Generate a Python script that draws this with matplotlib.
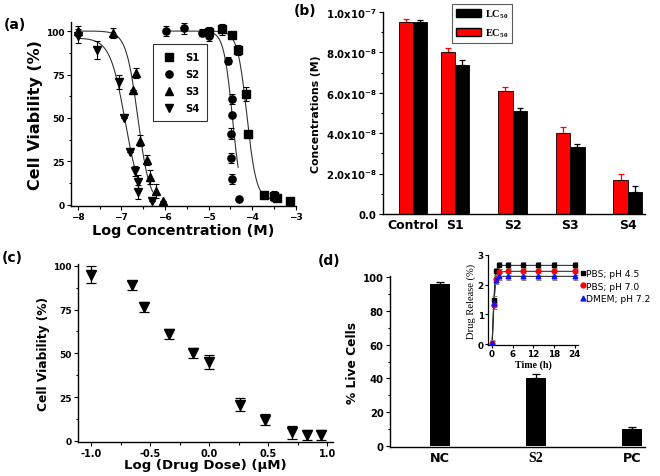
import numpy as np
import matplotlib
matplotlib.use('Agg')
import matplotlib.pyplot as plt
from matplotlib.ticker import MultipleLocator, FuncFormatter
from matplotlib.patches import Patch
from matplotlib.lines import Line2D

# ---------------- data ----------------
# (a) dose-response points: log concentration (M), viability (%), error
s1_x = [-4.98, -4.70, -4.47, -4.32, -4.14, -4.09, -3.72, -3.50, -3.42, -3.12]
s1_y = [99.5, 101, 97.5, 89, 64, 41, 6, 5, 4, 2]
s1_e = [3, 3, 0, 3, 4, 0, 0, 3, 0, 0]
s2_x = [-5.97, -5.56, -5.16, -4.98, -4.55, -4.47, -4.47, -4.48, -4.48, -4.47, -4.29]
s2_y = [100, 101.5, 99, 97, 83, 61, 52, 41, 27, 15, 3.5]
s2_e = [3, 3, 2, 3, 2, 3, 0, 3, 3, 3, 0]
s3_x = [-8.0, -7.18, -6.66, -6.74, -6.57, -6.42, -6.34, -6.20, -6.04]
s3_y = [100, 99, 76, 66, 37, 26, 16, 8, 2]
s3_e = [3, 3, 3, 0, 3, 3, 4, 4, 0]
s4_x = [-8.0, -7.56, -7.05, -6.93, -6.80, -6.69, -6.61, -6.61, -6.30]
s4_y = [97, 89, 70.5, 50, 30.5, 19.5, 13, 7.5, 2]
s4_e = [4, 5, 4, 0, 0, 3, 4, 4, 0]
# (a) sigmoidal fit parameters
fit_top = [100, 100, 100, 96]
fit_bottom = [3, 0, 0, 0]
fit_logic50 = [-4.12, -4.45, -6.62, -6.91]
fit_hill = [4.0, 4.3, 3.2, 2.5]
fit_from = [-4.9, -6.0, -8.0, -8.0]
fit_to = [-3.4, -4.32, -6.28, -6.6]
series_names = ['S1', 'S2', 'S3', 'S4']

# (b) EC50 / LC50 concentrations (M)
b_categories = ['Control', 'S1', 'S2', 'S3', 'S4']
ec50 = [9.5e-8, 8.0e-8, 6.1e-8, 4.0e-8, 1.7e-8]
ec50_err = [0.15e-8, 0.2e-8, 0.2e-8, 0.3e-8, 0.3e-8]
lc50 = [9.5e-8, 7.4e-8, 5.1e-8, 3.3e-8, 1.1e-8]
lc50_err = [0.1e-8, 0.2e-8, 0.15e-8, 0.15e-8, 0.3e-8]

# (c) viability vs log drug dose
c_logdose = [-1.0, -0.654, -0.55, -0.34, -0.14, 0.0, 0.264, 0.475, 0.70, 0.826, 0.947]
c_viab = [94.9, 88.8, 76.4, 61, 50.1, 45.1, 20.8, 12.1, 4.95, 3.6, 3.2]
c_err = [5, 2.7, 3, 2.9, 3, 3.8, 3.8, 3.1, 3.6, 2.9, 2.9]

# (d) live cells
d_categories = ['NC', 'S2', 'PC']
d_live = [95.5, 40.5, 10]
d_err = [1.5, 2, 1.5]

# (d) inset drug release
rel_time = [0, 0.5, 1, 2, 4.5, 9, 13.5, 18, 24]
rel_pbs45 = [0, 1.5, 2.45, 2.65, 2.65, 2.65, 2.65, 2.65, 2.65]
rel_pbs70 = [0, 1.3, 2.2, 2.42, 2.45, 2.45, 2.45, 2.45, 2.45]
rel_dmem = [0.03, 1.38, 2.15, 2.28, 2.28, 2.28, 2.28, 2.28, 2.28]
rel_err = 0.12
rel_labels = ['PBS; pH 4.5', 'PBS; pH 7.0', 'DMEM; pH 7.2']

# ---------------- style ----------------
plt.rcParams['font.family'] = ['DejaVu Sans']
plt.rcParams['font.weight'] = 'bold'
plt.rcParams['axes.labelweight'] = 'bold'
plt.rcParams['mathtext.fontset'] = 'custom'
plt.rcParams['mathtext.rm'] = 'Liberation Serif'
plt.rcParams['mathtext.bf'] = 'DejaVu Sans:bold'

W, H = 660, 477
fig = plt.figure(figsize=(W / 100, H / 100), dpi=100)


def px_axes(l, t, r, b):
    return fig.add_axes([l / W, 1 - b / H, (r - l) / W, (b - t) / H])


def style(ax, lw=1.0):
    for s in ['top', 'right']:
        ax.spines[s].set_visible(False)
    for s in ['left', 'bottom']:
        ax.spines[s].set_linewidth(lw)
    ax.tick_params(which='major', direction='out', length=3, width=0.8)
    ax.tick_params(which='minor', direction='out', length=1.8, width=0.8)


def panel_label(x, y, s):
    fig.text(x / W, 1 - y / H, s, fontsize=10, fontweight='bold', ha='left', va='center')


# ---------- (a) ----------
ax = px_axes(71, 23, 296, 207)
style(ax)
markers = ['s', 'o', '^', 'v']
xs = [s1_x, s2_x, s3_x, s4_x]
ys = [s1_y, s2_y, s3_y, s4_y]
es = [s1_e, s2_e, s3_e, s4_e]
handles = []
for i in range(4):
    xx = np.linspace(fit_from[i], fit_to[i], 200)
    yy = fit_bottom[i] + (fit_top[i] - fit_bottom[i]) / (1 + 10 ** ((xx - fit_logic50[i]) * fit_hill[i]))
    ax.plot(xx, yy, color='#333333', lw=0.8, zorder=2)
    ax.errorbar(xs[i], ys[i], yerr=es[i], fmt=markers[i], color='black', ms=5.2,
                elinewidth=0.8, capsize=2.4, capthick=0.8, zorder=3)
    handles.append(Line2D([], [], ls='none', marker=markers[i], color='black', ms=5.2, label=series_names[i]))
ax.set_xlim(-8.154, -2.993)
ax.set_ylim(-0.6, 105.2)
ax.xaxis.set_major_locator(MultipleLocator(1))
ax.xaxis.set_minor_locator(MultipleLocator(0.5))
ax.yaxis.set_major_locator(MultipleLocator(25))
ax.yaxis.set_minor_locator(MultipleLocator(12.5))
ax.tick_params(labelsize=6.5, pad=1.5)
ax.set_xlabel('Log Concentration (M)', fontsize=10.4, labelpad=1)
ax.set_ylabel('Cell Viability (%)', fontsize=11.5, labelpad=2)
leg = ax.legend(handles=handles, loc='upper left', bbox_to_anchor=(0.364, 0.88),
                borderaxespad=0, frameon=True, fancybox=False, edgecolor='black',
                prop={'size': 7.2, 'weight': 'bold'}, labelspacing=0.7, handletextpad=0.8,
                borderpad=0.8, handlelength=1.6)
leg.get_frame().set_linewidth(0.8)
panel_label(4, 25, '(a)')

# ---------- (b) ----------
ax = px_axes(383, 13, 645, 215)
style(ax)
pos = np.arange(len(b_categories), dtype=float)
pos[0] = 0.27  # Control sits closer to S1 in the original
pos = pos - 0.27
bw = 0.25
ax.bar(pos - bw / 2, ec50, bw, color='#ff0000', edgecolor='black', linewidth=0.6, zorder=2)
ax.errorbar(pos - bw / 2, ec50, yerr=[np.zeros(5), ec50_err], fmt='none', ecolor='#ff0000',
            elinewidth=0.9, capsize=2.5, capthick=0.9, zorder=1)
ax.bar(pos + bw / 2, lc50, bw, color='black', edgecolor='black', linewidth=0.6, zorder=2)
ax.errorbar(pos + bw / 2, lc50, yerr=[np.zeros(5), lc50_err], fmt='none', ecolor='black',
            elinewidth=0.9, capsize=2.5, capthick=0.9, zorder=1)
ax.set_xlim(-0.52, 4.03)
ax.set_ylim(0, 1.0e-7)
ax.set_xticks(pos)
ax.set_xticklabels(b_categories, fontsize=9)
ax.tick_params(axis='x', length=0, pad=3)
ax.yaxis.set_major_locator(MultipleLocator(2e-8))
ax.yaxis.set_minor_locator(MultipleLocator(1e-8))


def sci(v, p):
    if v < 1e-20:
        return '0.0'
    e = int(np.floor(np.log10(v) + 1e-9))
    m = v / 10 ** e
    return '$\\mathbf{%.1fx10^{%d}}$' % (m, e)


ax.yaxis.set_major_formatter(FuncFormatter(sci))
ax.tick_params(axis='y', labelsize=7.3, pad=1.5)
ax.set_ylabel('Concentrations (M)', fontsize=7.8, labelpad=3)
lh = [Patch(facecolor='black', edgecolor='black', label='LC$_{\\mathrm{50}}$'),
      Patch(facecolor='#ff0000', edgecolor='black', label='EC$_{\\mathrm{50}}$')]
leg = ax.legend(handles=lh, loc='upper left', bbox_to_anchor=(0.263, 1.04), borderaxespad=0,
                frameon=True, fancybox=False, edgecolor='#333333',
                prop={'family': 'Liberation Serif', 'size': 7.5}, handlelength=2.4,
                handleheight=0.8, handletextpad=0.4, labelspacing=0.6, borderpad=0.35)
leg.get_frame().set_linewidth(0.8)
panel_label(294, 11, '(b)')

# ---------- (c) ----------
ax = px_axes(78, 265, 333, 443)
style(ax)
ax.errorbar(c_logdose, c_viab, yerr=c_err, fmt='v', color='black', ms=7,
            elinewidth=0.9, capsize=3.4, capthick=0.9)
ax.set_xlim(-1.11, 1.05)
ax.set_ylim(-0.6, 101)
ax.xaxis.set_major_locator(MultipleLocator(0.5))
ax.xaxis.set_minor_locator(MultipleLocator(0.25))
ax.yaxis.set_major_locator(MultipleLocator(25))
ax.yaxis.set_minor_locator(MultipleLocator(12.5))
ax.xaxis.set_major_formatter(FuncFormatter(lambda v, p: '%.1f' % v))
ax.tick_params(axis='x', labelsize=7, pad=1.5)
ax.tick_params(axis='y', labelsize=6.5, pad=1.5)
ax.set_xlabel('Log (Drug Dose) (\u03bcM)', fontsize=9.5, labelpad=0)
ax.set_ylabel('Cell Viability (%)', fontsize=8.8, labelpad=2)
panel_label(2, 258, '(c)')

# ---------- (d) ----------
ax = px_axes(390, 277, 645, 448)
style(ax)
dpos = np.arange(len(d_categories))
ax.bar(dpos, d_live, 0.21, color='black', zorder=2)
ax.errorbar(dpos, d_live, yerr=[np.zeros(3), d_err], fmt='none', ecolor='black',
            elinewidth=0.9, capsize=3, capthick=0.9, zorder=1)
ax.set_xlim(-0.52, 2.135)
ax.set_ylim(-0.5, 100.5)
ax.set_xticks(dpos)
ax.set_xticklabels(d_categories, fontsize=9.2)
ax.get_xticklabels()[1].set_fontfamily('Liberation Serif')
ax.get_xticklabels()[1].set_fontsize(10)
ax.tick_params(axis='x', length=0, pad=3)
ax.yaxis.set_major_locator(MultipleLocator(20))
ax.yaxis.set_minor_locator(MultipleLocator(10))
ax.tick_params(axis='y', labelsize=7.2, pad=1.5)
ax.set_ylabel('% Live Cells', fontsize=8.8, labelpad=3)
panel_label(318, 261, '(d)')

# inset
axi = px_axes(488, 256, 578, 346)
style(axi, lw=0.9)
cols = ['black', '#ff0000', '#1010ff']
mk = ['s', 'o', '^']
for yv, c, m, lab in zip([rel_pbs45, rel_pbs70, rel_dmem], cols, mk, rel_labels):
    axi.plot(rel_time, yv, color='#333333', lw=0.8, zorder=2)
    axi.errorbar(rel_time, yv, yerr=rel_err, fmt=m, color=c, ms=3.4, elinewidth=0.6,
                 ecolor='#777777', capsize=1.8, capthick=0.6, zorder=3, label=lab)
axi.set_xlim(-1.2, 25)
axi.set_ylim(-0.03, 3.0)
axi.set_xticks([0, 6, 12, 18, 24])
axi.set_yticks([0, 1, 2, 3])
axi.tick_params(labelsize=6.3, pad=1, length=2)
axi.set_xlabel('Time (h)', fontsize=7.2, family='Liberation Serif', labelpad=1)
axi.set_ylabel('Drug Release (%)', fontsize=7.6, family='Liberation Serif',
               fontweight='normal', labelpad=1)
hl = [Line2D([], [], ls='none', marker=m, color=c, ms=3.5, label=lab)
      for c, m, lab in zip(cols, mk, rel_labels)]
axi.legend(handles=hl, loc='upper left', bbox_to_anchor=(1.02, 0.84), borderaxespad=0,
           frameon=False, prop={'size': 6.6, 'weight': 'normal'}, handlelength=0.6,
           handletextpad=0.1, labelspacing=0.35, borderpad=0)

fig.savefig('out.png', dpi=100)
